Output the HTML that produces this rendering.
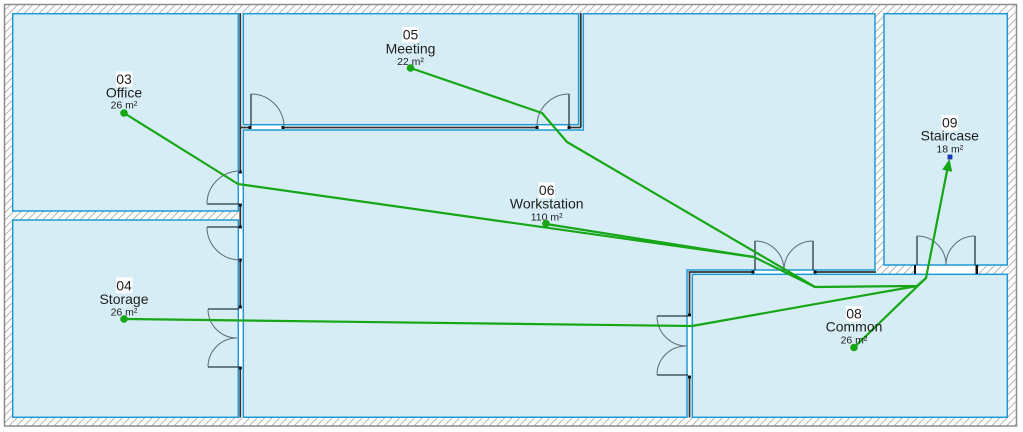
<!DOCTYPE html>
<html><head><meta charset="utf-8"><style>
html,body{margin:0;padding:0;background:#fff;width:1023px;height:432px;overflow:hidden;}
svg{display:block;}
text{font-family:"Liberation Sans",Arial,sans-serif;fill:#1e1e1e;}
.n{font-size:14px;}
.a{font-size:10.5px;}
</style></head><body>
<svg width="1023" height="432" viewBox="0 0 1023 432" xmlns="http://www.w3.org/2000/svg">
<defs>
<pattern id="h" patternUnits="userSpaceOnUse" width="7.5" height="7.5">
<path d="M0,7.5 L7.5,0 M-1,1 L1,-1 M6.5,8.5 L8.5,6.5" stroke="#a8a8a8" stroke-width="0.8"/>
</pattern>
</defs>
<rect width="1023" height="432" fill="#fff"/>
<rect x="4.5" y="4.5" width="1012" height="421.5" fill="url(#h)" stroke="#8c8c8c" stroke-width="1.5"/>

<!-- interior wall bands -->
<g fill="#fff">
<rect x="238" y="13" width="5.5" height="405"/>
<rect x="240" y="124.5" width="343.5" height="6"/>
<rect x="578" y="13" width="5.5" height="117.5"/>
<rect x="687" y="269.5" width="190" height="5"/>
<rect x="687" y="269.5" width="5.5" height="148"/>
<rect x="915" y="265" width="62" height="9"/>
</g>

<!-- rooms -->
<g fill="#d6edf5" stroke="#1d9ad6" stroke-width="1.5">
<rect x="12.7" y="13.7" width="225.6" height="197.3"/>
<rect x="12.7" y="220" width="225.6" height="197.3"/>
<rect x="243.3" y="13.7" width="335.3" height="111"/>
<polygon points="243.3,130 583.3,130 583.3,13.7 875,13.7 875,270 687,270 687,417.3 243.3,417.3"/>
<rect x="884" y="13.7" width="123.3" height="251.3"/>
<rect x="692.3" y="274.3" width="315" height="143"/>
</g>

<!-- wall lines -->
<g stroke="#333" stroke-width="1.8" fill="none">
<path d="M240.3,13 V172 M240.3,205 V227 M240.3,260 V307 M240.3,368 V417.5"/>
<path d="M240.3,127.5 H250 M283,127.5 H537 M569,127.5 H581"/>
<path d="M580.8,13 V127.5"/>
<path d="M688.5,272 H753 M815,272 H876"/>
<path d="M689.5,272 V315 M689.5,377 V417.5"/>
</g>

<!-- jambs -->
<g fill="#111">
<rect x="238.8" y="170.5" width="3" height="3"/>
<rect x="238.8" y="203.5" width="3" height="3"/>
<rect x="238.8" y="225.5" width="3" height="3"/>
<rect x="238.8" y="258.5" width="3" height="3"/>
<rect x="238.8" y="305.5" width="3" height="3"/>
<rect x="238.8" y="366.5" width="3" height="3"/>
<rect x="248.5" y="126" width="3" height="3"/>
<rect x="281.5" y="126" width="3" height="3"/>
<rect x="535.5" y="126" width="3" height="3"/>
<rect x="567.5" y="126" width="3" height="3"/>
<rect x="751.5" y="270.5" width="3" height="3"/>
<rect x="813.5" y="270.5" width="3" height="3"/>
<rect x="688" y="313.5" width="3" height="3"/>
<rect x="688" y="375.5" width="3" height="3"/>
<rect x="914" y="265" width="2" height="9"/>
<rect x="975.5" y="265" width="2.5" height="9"/>
</g>

<!-- doors: leaves -->
<g stroke="#2a3640" stroke-width="1.3" fill="none">
<path d="M207,204 H239"/>
<path d="M207,227 H239"/>
<path d="M208,309 H239 M208,367 H239"/>
<path d="M251,94 V126 M569,94 V126"/>
<path d="M755,241 V270 M813,241 V270"/>
<path d="M917,236 V265 M975,236 V265"/>
<path d="M657,316 H688 M657,375 H688"/>
</g>
<!-- doors: arcs -->
<g stroke="#5b6b78" stroke-width="1" fill="none">
<path d="M207,204 A33,33 0 0 1 240,171"/>
<path d="M207,227 A33,33 0 0 0 240,260"/>
<path d="M208,309 A29,29 0 0 0 237,338"/>
<path d="M208,367 A29,29 0 0 1 237,338"/>
<path d="M251,94 A33,33 0 0 1 284,127"/>
<path d="M569,94 A32,32 0 0 0 537,126"/>
<path d="M755,241 A29,29 0 0 1 784,270"/>
<path d="M813,241 A29,29 0 0 0 784,270"/>
<path d="M917,236 A29,29 0 0 1 946,265"/>
<path d="M975,236 A29,29 0 0 0 946,265"/>
<path d="M657,316 A30,30 0 0 0 687,346"/>
<path d="M657,375 A29,29 0 0 1 686,346"/>
</g>

<!-- paths -->
<g stroke="#16a616" stroke-width="2.2" fill="none" stroke-linejoin="round" stroke-linecap="round">
<polyline points="124,113 238,184 754,257 815,287 917,286 926,278"/>
<polyline points="546,224 754,257"/>
<polyline points="410.5,68 542,113 567,142 815,287"/>
<polyline points="124,319 692,326 917,286"/>
<polyline points="854,347.5 926,278"/>
<polyline points="926,278 947,171"/>
</g>
<polygon points="949.5,159 952.2,171.8 942.2,169.8" fill="#16a616"/>
<rect x="948" y="155" width="4" height="4" fill="#1a40d0" stroke="#0e2a80" stroke-width="0.8"/>

<!-- labels -->
<g fill="#fff">
<rect x="116" y="71.5" width="16.5" height="15.5"/>
<rect x="402.3" y="27" width="16.5" height="15.5"/>
<rect x="538.5" y="182.5" width="16.5" height="15.5"/>
<rect x="941.5" y="115" width="16.5" height="15.5"/>
<rect x="116" y="277.5" width="16.5" height="15.5"/>
<rect x="845.8" y="306" width="16.5" height="15.5"/>
</g>

<text class="n" x="124" y="84" text-anchor="middle">03</text>
<text class="n" x="124" y="97.5" text-anchor="middle">Office</text>
<text class="a" x="124" y="108.7" text-anchor="middle">26 m²</text>

<text class="n" x="410.5" y="39.5" text-anchor="middle">05</text>
<text class="n" x="410.5" y="53.3" text-anchor="middle">Meeting</text>
<text class="a" x="410.5" y="65" text-anchor="middle">22 m²</text>

<text class="n" x="546.7" y="195" text-anchor="middle">06</text>
<text class="n" x="546.7" y="208.3" text-anchor="middle">Workstation</text>
<text class="a" x="546.7" y="220.7" text-anchor="middle">110 m²</text>

<text class="n" x="949.8" y="127.3" text-anchor="middle">09</text>
<text class="n" x="949.8" y="140.7" text-anchor="middle">Staircase</text>
<text class="a" x="949.8" y="152.7" text-anchor="middle">18 m²</text>

<text class="n" x="124" y="290.7" text-anchor="middle">04</text>
<text class="n" x="124" y="304" text-anchor="middle">Storage</text>
<text class="a" x="124" y="315.3" text-anchor="middle">26 m²</text>

<text class="n" x="854" y="318.3" text-anchor="middle">08</text>
<text class="n" x="854" y="331.7" text-anchor="middle">Common</text>
<text class="a" x="854" y="343.3" text-anchor="middle">26 m²</text>

<!-- dots -->
<g fill="#16a616">
<circle cx="124" cy="113" r="3.8"/>
<circle cx="410.5" cy="68" r="3.8"/>
<circle cx="546" cy="223.5" r="3.8"/>
<circle cx="124" cy="319" r="3.8"/>
<circle cx="854" cy="347.5" r="3.8"/>
</g>
</svg>
</body></html>
